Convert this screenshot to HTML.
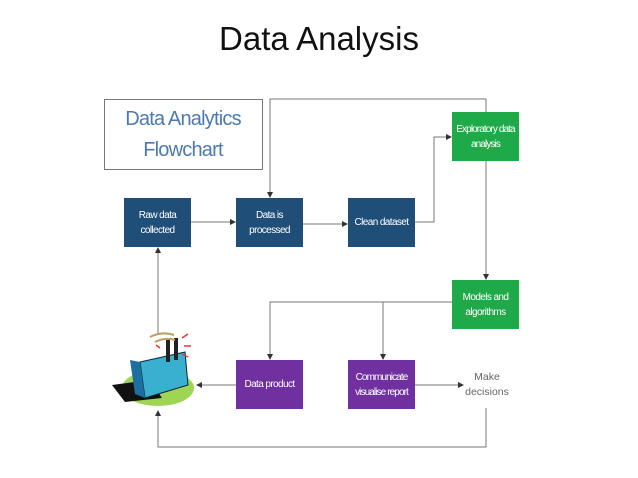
<!DOCTYPE html>
<html><head><meta charset="utf-8"><style>
body{margin:0;width:638px;height:478px;background:#fff;position:relative;overflow:hidden;font-family:"Liberation Sans",sans-serif}
.t{position:absolute;left:0;width:638px;top:20px;text-align:center;font-size:33px;color:#111}
.b{position:absolute;width:67px;height:49px;color:#fff;font-size:10px;letter-spacing:-0.6px;white-space:nowrap;display:flex;align-items:center;justify-content:center;text-align:center;line-height:15px}
.n{background:#1f4e79}.g{background:#1faa4a}.p{background:#7030a0}
svg{position:absolute;left:0;top:0}
</style></head><body>
<div class="t">Data Analysis</div>
<svg width="638" height="478">
<defs><marker id="a" markerWidth="6" markerHeight="6" refX="5" refY="3" orient="auto"><path d="M0,0L6,3L0,6z" fill="#333"/></marker></defs>
<rect x="104.5" y="99.5" width="158" height="70" fill="#fff" stroke="#777" stroke-width="1"/>
<g stroke="#777" stroke-width="1" fill="none">
<path d="M270,197V99H486V112" />
<path d="M270,99V197" marker-end="url(#a)"/>
<path d="M191,222H235" marker-end="url(#a)"/>
<path d="M303,224H347" marker-end="url(#a)"/>
<path d="M415,222H434V137H451" marker-end="url(#a)"/>
<path d="M486,161V279" marker-end="url(#a)"/>
<path d="M452,302H270V359" marker-end="url(#a)"/>
<path d="M383,302V359" marker-end="url(#a)"/>
<path d="M236,385H197" marker-end="url(#a)"/>
<path d="M415,385H463" marker-end="url(#a)"/>
<path d="M486,408V447H158V411" marker-end="url(#a)"/>
<path d="M158,334V248" marker-end="url(#a)"/>
</g>
<g>
<ellipse cx="158" cy="388" rx="36" ry="18" fill="#9ed654"/>
<polygon points="112,385 150,380 162,398 125,402" fill="#111"/>
<polygon points="140,362 185,352 188,385 145,398" fill="#3ab0d0" stroke="#123" stroke-width="1"/>
<polygon points="130,360 140,362 145,398 135,394" fill="#1c6fa0"/>
<rect x="166" y="340" width="4" height="22" fill="#222"/>
<rect x="174" y="338" width="4" height="22" fill="#222"/>
<path d="M150,337q12,-6 24,-2M155,342q10,-5 20,-2" stroke="#b8a060" stroke-width="2" fill="none"/>
<path d="M182,338l6,-4M184,346l7,0M160,348l-4,-3M182,354l6,3" stroke="#e33" stroke-width="1.5"/>
</g>
</svg>
<div style="position:absolute;left:104px;top:104px;width:158px;text-align:center;color:#4a7ab0;font-size:20px;line-height:31px;letter-spacing:-0.8px">Data Analytics<br>Flowchart</div>
<div class="b n" style="left:124px;top:198px">Raw data<br>collected</div>
<div class="b n" style="left:236px;top:198px">Data is<br>processed</div>
<div class="b n" style="left:348px;top:198px">Clean dataset</div>
<div class="b g" style="left:452px;top:112px;letter-spacing:-0.9px">Exploratory data<br>analysis</div>
<div class="b g" style="left:452px;top:280px">Models and<br>algorithms</div>
<div class="b p" style="left:236px;top:360px">Data product</div>
<div class="b p" style="left:348px;top:360px;letter-spacing:-0.9px">Communicate<br>visualise report</div>
<div style="position:absolute;left:462px;top:370px;width:50px;text-align:center;color:#666;font-size:10.5px;line-height:15px">Make<br>decisions</div>
</body></html>
